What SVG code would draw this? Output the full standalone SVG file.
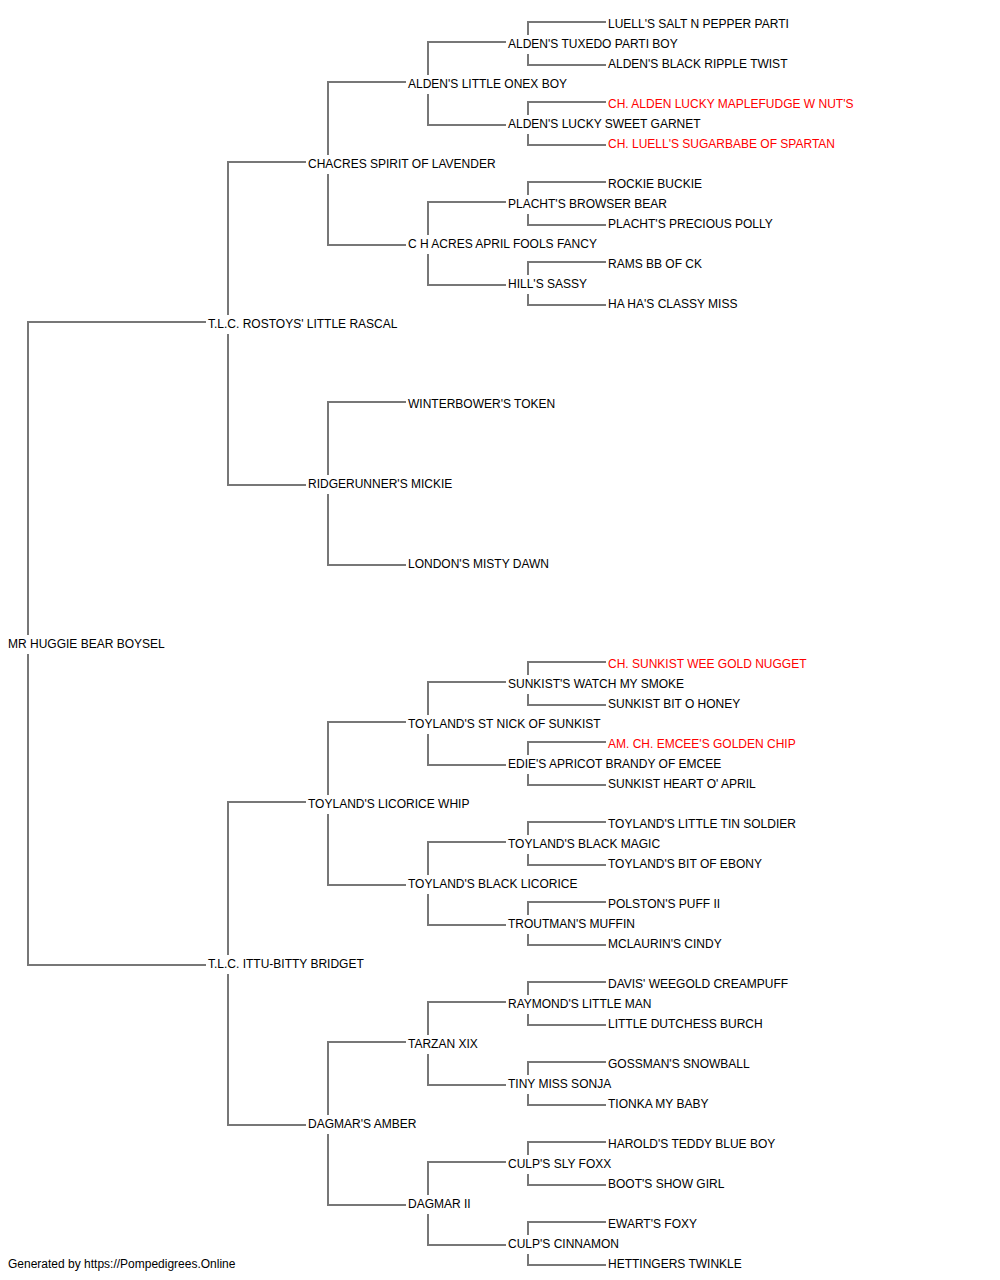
<svg xmlns="http://www.w3.org/2000/svg" width="1000" height="1280" viewBox="0 0 1000 1280">
<style>
text{font-family:"Liberation Sans",Arial,sans-serif;font-size:12px;fill:#000}
text.ch{fill:#ff0000}
.c path{fill:none;stroke:#777;stroke-width:2}
</style>
<rect width="1000" height="1280" fill="#fff"/>
<g class="c" id="connectors">
<path d="M28,635V322H206M28,654V965H206"/>
<path d="M228,315V162H306M228,334V485H306"/>
<path d="M228,955V802H306M228,974V1125H306"/>
<path d="M328,155V82H406M328,174V245H406"/>
<path d="M328,475V402H406M328,494V565H406"/>
<path d="M328,795V722H406M328,814V885H406"/>
<path d="M328,1115V1042H406M328,1134V1205H406"/>
<path d="M428,75V42H506M428,94V125H506"/>
<path d="M428,235V202H506M428,254V285H506"/>
<path d="M428,715V682H506M428,734V765H506"/>
<path d="M428,875V842H506M428,894V925H506"/>
<path d="M428,1035V1002H506M428,1054V1085H506"/>
<path d="M428,1195V1162H506M428,1214V1245H506"/>
<path d="M528,35V22H606M528,54V65H606"/>
<path d="M528,115V102H606M528,134V145H606"/>
<path d="M528,195V182H606M528,214V225H606"/>
<path d="M528,275V262H606M528,294V305H606"/>
<path d="M528,675V662H606M528,694V705H606"/>
<path d="M528,755V742H606M528,774V785H606"/>
<path d="M528,835V822H606M528,854V865H606"/>
<path d="M528,915V902H606M528,934V945H606"/>
<path d="M528,995V982H606M528,1014V1025H606"/>
<path d="M528,1075V1062H606M528,1094V1105H606"/>
<path d="M528,1155V1142H606M528,1174V1185H606"/>
<path d="M528,1235V1222H606M528,1254V1265H606"/>
</g>
<g id="n0"><text x="8" y="648">MR HUGGIE BEAR BOYSEL</text></g>
<g id="n1"><text x="208" y="328">T.L.C. ROSTOYS' LITTLE RASCAL</text></g>
<g id="n2"><text x="208" y="968">T.L.C. ITTU-BITTY BRIDGET</text></g>
<g id="n3"><text x="308" y="168">CHACRES SPIRIT OF LAVENDER</text></g>
<g id="n4"><text x="308" y="488">RIDGERUNNER'S MICKIE</text></g>
<g id="n5"><text x="308" y="808">TOYLAND'S LICORICE WHIP</text></g>
<g id="n6"><text x="308" y="1128">DAGMAR'S AMBER</text></g>
<g id="n7"><text x="408" y="88">ALDEN'S LITTLE ONEX BOY</text></g>
<g id="n8"><text x="408" y="248">C H ACRES APRIL FOOLS FANCY</text></g>
<g id="n9"><text x="408" y="408">WINTERBOWER'S TOKEN</text></g>
<g id="n10"><text x="408" y="568">LONDON'S MISTY DAWN</text></g>
<g id="n11"><text x="408" y="728">TOYLAND'S ST NICK OF SUNKIST</text></g>
<g id="n12"><text x="408" y="888">TOYLAND'S BLACK LICORICE</text></g>
<g id="n13"><text x="408" y="1048">TARZAN XIX</text></g>
<g id="n14"><text x="408" y="1208">DAGMAR II</text></g>
<g id="n15"><text x="508" y="48">ALDEN'S TUXEDO PARTI BOY</text></g>
<g id="n16"><text x="508" y="128">ALDEN'S LUCKY SWEET GARNET</text></g>
<g id="n17"><text x="508" y="208">PLACHT'S BROWSER BEAR</text></g>
<g id="n18"><text x="508" y="288">HILL'S SASSY</text></g>
<g id="n19"><text x="508" y="688">SUNKIST'S WATCH MY SMOKE</text></g>
<g id="n20"><text x="508" y="768">EDIE'S APRICOT BRANDY OF EMCEE</text></g>
<g id="n21"><text x="508" y="848">TOYLAND'S BLACK MAGIC</text></g>
<g id="n22"><text x="508" y="928">TROUTMAN'S MUFFIN</text></g>
<g id="n23"><text x="508" y="1008">RAYMOND'S LITTLE MAN</text></g>
<g id="n24"><text x="508" y="1088">TINY MISS SONJA</text></g>
<g id="n25"><text x="508" y="1168">CULP'S SLY FOXX</text></g>
<g id="n26"><text x="508" y="1248">CULP'S CINNAMON</text></g>
<g id="n27"><text x="608" y="28">LUELL'S SALT N PEPPER PARTI</text></g>
<g id="n28"><text x="608" y="68">ALDEN'S BLACK RIPPLE TWIST</text></g>
<g id="n29"><text class="ch" x="608" y="108">CH. ALDEN LUCKY MAPLEFUDGE W NUT'S</text></g>
<g id="n30"><text class="ch" x="608" y="148">CH. LUELL'S SUGARBABE OF SPARTAN</text></g>
<g id="n31"><text x="608" y="188">ROCKIE BUCKIE</text></g>
<g id="n32"><text x="608" y="228">PLACHT'S PRECIOUS POLLY</text></g>
<g id="n33"><text x="608" y="268">RAMS BB OF CK</text></g>
<g id="n34"><text x="608" y="308">HA HA'S CLASSY MISS</text></g>
<g id="n35"><text class="ch" x="608" y="668">CH. SUNKIST WEE GOLD NUGGET</text></g>
<g id="n36"><text x="608" y="708">SUNKIST BIT O HONEY</text></g>
<g id="n37"><text class="ch" x="608" y="748">AM. CH. EMCEE'S GOLDEN CHIP</text></g>
<g id="n38"><text x="608" y="788">SUNKIST HEART O' APRIL</text></g>
<g id="n39"><text x="608" y="828">TOYLAND'S LITTLE TIN SOLDIER</text></g>
<g id="n40"><text x="608" y="868">TOYLAND'S BIT OF EBONY</text></g>
<g id="n41"><text x="608" y="908">POLSTON'S PUFF II</text></g>
<g id="n42"><text x="608" y="948">MCLAURIN'S CINDY</text></g>
<g id="n43"><text x="608" y="988">DAVIS' WEEGOLD CREAMPUFF</text></g>
<g id="n44"><text x="608" y="1028">LITTLE DUTCHESS BURCH</text></g>
<g id="n45"><text x="608" y="1068">GOSSMAN'S SNOWBALL</text></g>
<g id="n46"><text x="608" y="1108">TIONKA MY BABY</text></g>
<g id="n47"><text x="608" y="1148">HAROLD'S TEDDY BLUE BOY</text></g>
<g id="n48"><text x="608" y="1188">BOOT'S SHOW GIRL</text></g>
<g id="n49"><text x="608" y="1228">EWART'S FOXY</text></g>
<g id="n50"><text x="608" y="1268">HETTINGERS TWINKLE</text></g>
<text x="8" y="1268">Generated by https://Pompedigrees.Online</text>
</svg>
